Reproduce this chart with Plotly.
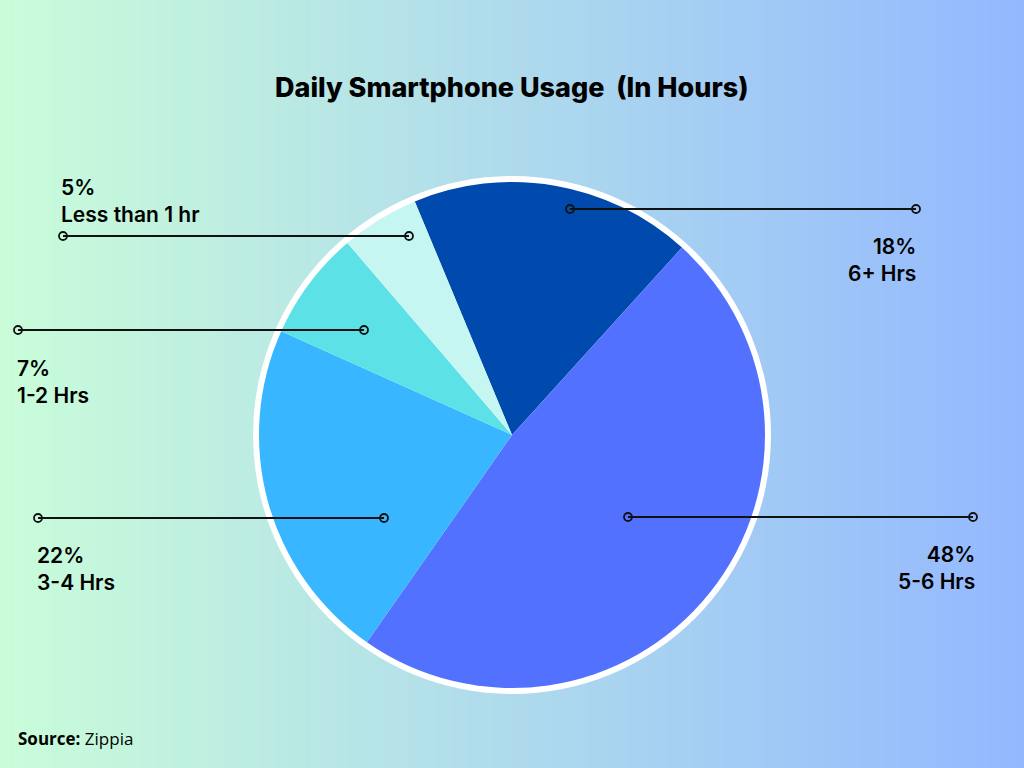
import plotly.graph_objects as go

# --- data ---
labels = ["6+ Hrs", "5-6 Hrs", "3-4 Hrs", "1-2 Hrs", "Less than 1 hr"]
values = [18, 48, 22, 7, 5]
colors = ["#004AAD", "#5271FF", "#38B6FF", "#5CE1E6", "#C6F6F2"]

W, H = 1024, 768
BG_LEFT, BG_RIGHT = "#C9FDD9", "#94B8FF"

# leader lines in page pixels: (inner x, outer x, y), label anchor (x, top y, align)
leaders = {
    "6+ Hrs": ((570, 916, 209), (918, 232, "right")),
    "5-6 Hrs": ((628, 973, 517), (977, 540, "right")),
    "3-4 Hrs": ((384, 38, 518), (35, 541, "left")),
    "1-2 Hrs": ((364, 18, 330), (15, 354, "left")),
    "Less than 1 hr": ((409, 63, 236), (59, 173, "left")),
}

FONT = "Inter"

fig = go.Figure()

# background gradient on a pixel-coordinate axis
fig.add_trace(go.Heatmap(
    x=[0, W], y=[0, H], z=[[0, 1], [0, 1]],
    colorscale=[[0, BG_LEFT], [1, BG_RIGHT]],
    zsmooth="best", showscale=False, hoverinfo="skip",
))

# pie geometry (pixels)
cx, cy, r, ring = 512, 435, 253, 6


def dom(rad):
    return dict(x=[(cx - rad) / W, (cx + rad) / W],
                y=[1 - (cy + rad) / H, 1 - (cy - rad) / H])


# white ring behind the pie
fig.add_trace(go.Pie(
    values=[1], marker=dict(colors=["white"]), textinfo="none",
    hoverinfo="skip", showlegend=False, domain=dom(r + ring), sort=False,
))

fig.add_trace(go.Pie(
    labels=labels, values=values, marker=dict(colors=colors, line=dict(width=0)),
    sort=False, direction="clockwise", rotation=-22.6,
    textinfo="none", showlegend=False, domain=dom(r),
))

shapes = []
annotations = []
for lab, val in zip(labels, values):
    (x_in, x_out, ly), (tx, ty, align) = leaders[lab]
    shapes.append(dict(type="line", xref="x", yref="y", x0=x_in, x1=x_out,
                       y0=ly, y1=ly, line=dict(color="#111111", width=2),
                       layer="above"))
    for px in (x_in, x_out):
        shapes.append(dict(type="circle", xref="x", yref="y",
                           x0=px - 4, x1=px + 4, y0=ly - 4, y1=ly + 4,
                           line=dict(color="#111111", width=1.8),
                           fillcolor="rgba(0,0,0,0)", layer="above"))
    annotations.append(dict(
        xref="x", yref="y", x=tx, y=ty, showarrow=False,
        xanchor=align, yanchor="top", align=align,
        text=f"{val}%<br>{lab}",
        font=dict(family=FONT, size=21, color="#000000", weight=600),
    ))

annotations.append(dict(
    xref="x", yref="y", x=512, y=87, showarrow=False,
    xanchor="center", yanchor="middle",
    text="Daily Smartphone Usage  (In Hours)",
    font=dict(family=FONT, size=27, color="#000000", weight=800),
))
annotations.append(dict(
    xref="x", yref="y", x=16, y=738, showarrow=False,
    xanchor="left", yanchor="middle",
    text="<b>Source:</b> Zippia",
    font=dict(family="Open Sans", size=17, color="#000000"),
))

fig.update_layout(
    width=W, height=H,
    margin=dict(l=0, r=0, t=0, b=0),
    paper_bgcolor=BG_LEFT, plot_bgcolor=BG_LEFT,
    xaxis=dict(range=[0, W], visible=False, fixedrange=True, domain=[0, 1]),
    yaxis=dict(range=[H, 0], visible=False, fixedrange=True, domain=[0, 1]),
    shapes=shapes, annotations=annotations,
    showlegend=False,
)

fig.write_html("out.html", config={"displayModeBar": False},
               post_script="document.body.style.margin='0';")
